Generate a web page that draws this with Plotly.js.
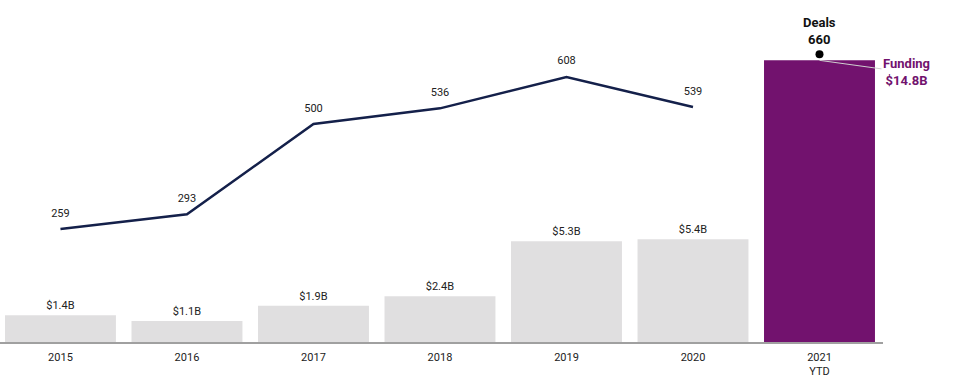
<!DOCTYPE html>
<html>
<head>
<meta charset="utf-8">
<script src="https://cdn.plot.ly/plotly-3.0.1.min.js"></script>
<style>html,body{margin:0;padding:0;background:#fff;}#chart{width:958px;height:388px;}</style>
</head>
<body>
<div id="chart"></div>
<script>
const years = ['2015','2016','2017','2018','2019','2020','2021'];
const tickLabels = ['2015','2016','2017','2018','2019','2020','2021<br>YTD'];
const funding = [1.4, 1.1, 1.9, 2.4, 5.3, 5.4, 14.8];
const deals = [259, 293, 500, 536, 608, 539, 660];
const grey = '#e0dfe0', purple = '#72126e', navy = '#14204a';

const n = years.length;
const barColors = years.map((_, i) => i === n - 1 ? purple : grey);
const barText = funding.map((v, i) => i === n - 1 ? '' : '$' + v.toFixed(1) + 'B');

const traces = [
  {
    type: 'bar', x: years, y: funding, marker: {color: barColors},
    text: barText, textposition: 'outside', cliponaxis: false,
    textfont: {family: 'Roboto', size: 11, color: '#222'},
    hoverinfo: 'skip'
  },
  {
    type: 'scatter', mode: 'lines+markers+text', x: years.slice(0, n - 1), y: deals.slice(0, n - 1),
    yaxis: 'y2', line: {color: navy, width: 2.5},
    marker: {size: 14, color: 'rgba(0,0,0,0)'},
    text: deals.slice(0, n - 1).map(String), textposition: 'top center',
    textfont: {family: 'Roboto', size: 11, color: '#222'}, cliponaxis: false,
    hoverinfo: 'skip'
  },
  {
    type: 'scatter', mode: 'markers', x: years.slice(n - 1), y: deals.slice(n - 1),
    yaxis: 'y2', marker: {color: '#000', size: 8}, cliponaxis: false, hoverinfo: 'skip'
  }
];

const layout = {
  width: 958, height: 388,
  margin: {l: 0, r: 75, t: 0, b: 46},
  paper_bgcolor: '#fff', plot_bgcolor: '#fff',
  showlegend: false, bargap: 0.123,
  font: {family: 'Roboto', size: 11, color: '#222'},
  xaxis: {
    type: 'category', range: [-0.478, 6.502], tickvals: years, ticktext: tickLabels,
    showline: true, linecolor: '#a0a0a0', linewidth: 1.5, showgrid: false, zeroline: false,
    ticks: '', ticklabelstandoff: 4, tickfont: {family: 'Roboto', size: 11, color: '#222'}
  },
  yaxis: {range: [0, 17.97], visible: false, showgrid: false, zeroline: false},
  yaxis2: {range: [0, 784.6], overlaying: 'y', visible: false, showgrid: false, zeroline: false},
  annotations: [
    {
      x: n - 1, y: deals[n - 1], xref: 'x', yref: 'y2',
      text: '<b>Deals</b><br><b>' + deals[n - 1] + '</b>', showarrow: false,
      yanchor: 'bottom', yshift: 5, font: {family: 'Roboto', size: 13, color: '#111'}
    },
    {
      x: n - 1, y: funding[n - 1], xref: 'x', yref: 'y',
      text: '<b>Funding</b><br><b>$' + funding[n - 1].toFixed(1) + 'B</b>',
      showarrow: true, arrowhead: 0, arrowwidth: 1, arrowcolor: '#cfcfcf',
      ax: 87, ay: 12, standoff: 0,
      font: {family: 'Roboto', size: 13, color: purple}
    }
  ]
};

Plotly.newPlot('chart', traces, layout, {displayModeBar: false, staticPlot: true});
</script>
</body>
</html>
